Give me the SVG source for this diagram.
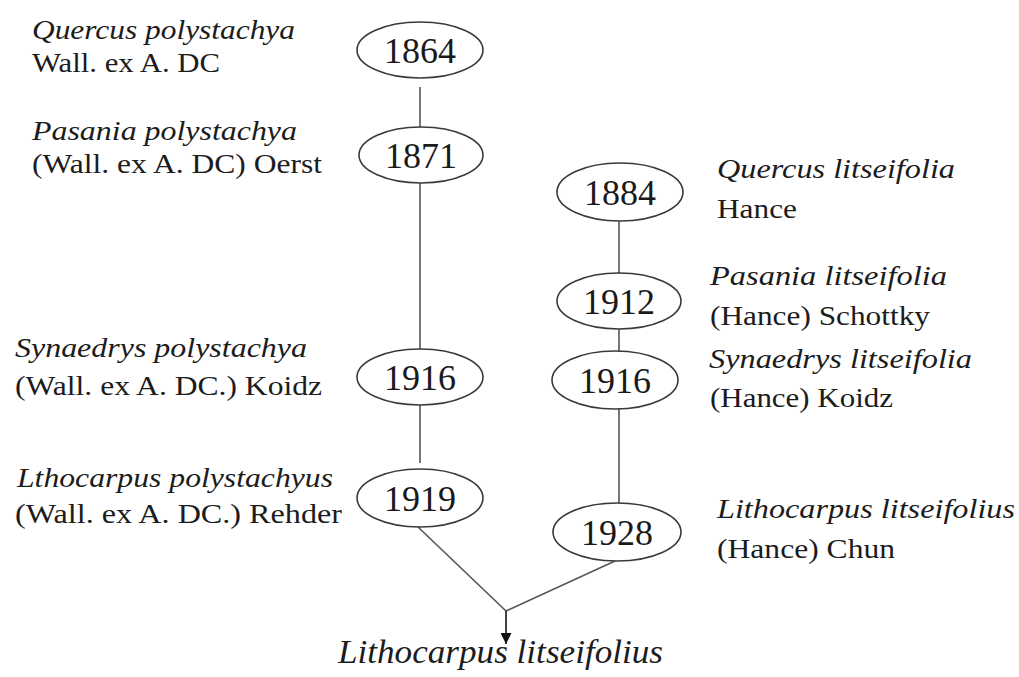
<svg xmlns="http://www.w3.org/2000/svg" width="1019" height="677" viewBox="0 0 1019 677">
<style>
.bg{fill:#ffffff}
.node ellipse{fill:#ffffff;stroke:#3a3a3a;stroke-width:1.6}
.yr{font-family:'Liberation Serif',serif;font-size:36px;fill:#1a1a1a;text-anchor:middle}
.lab{font-family:'Liberation Serif',serif;font-size:28px;fill:#1c1c1c}
.it{font-style:italic}
.big{font-family:'Liberation Serif',serif;font-size:33px;font-style:italic;fill:#1c1c1c}
.conn line{stroke:#555555;stroke-width:1.6;fill:none}
.conn .arr{stroke:#111111}
</style>
<defs>
<marker id="ah" viewBox="0 0 10 10" refX="10" refY="5" markerWidth="11" markerHeight="11" markerUnits="userSpaceOnUse" orient="auto">
<path d="M0,0 L10,5 L0,10 z" fill="#111111"/>
</marker>
</defs>
<rect class="bg" x="0" y="0" width="1019" height="677"/>
<g id="connectors" class="conn">
<line x1="420" y1="87" x2="420" y2="127"/>
<line x1="420" y1="183" x2="420" y2="349"/>
<line x1="420" y1="405" x2="420" y2="463"/>
<line x1="619" y1="221" x2="619" y2="273"/>
<line x1="619" y1="329" x2="619" y2="351"/>
<line x1="619" y1="409" x2="619" y2="503"/>
<line x1="418" y1="527" x2="506" y2="611"/>
<line x1="615" y1="561" x2="506" y2="611"/>
<line class="arr" x1="506" y1="611" x2="506" y2="644" marker-end="url(#ah)"/>
</g>
<g id="n1864" class="node"><ellipse cx="420" cy="50" rx="63" ry="28"/><text class="yr" x="420" y="63">1864</text></g>
<g id="n1871" class="node"><ellipse cx="421" cy="155" rx="62" ry="28"/><text class="yr" x="421" y="168">1871</text></g>
<g id="n1916a" class="node"><ellipse cx="420" cy="377" rx="63" ry="28"/><text class="yr" x="420" y="390">1916</text></g>
<g id="n1919" class="node"><ellipse cx="420" cy="498" rx="63" ry="29"/><text class="yr" x="420" y="511">1919</text></g>
<g id="n1884" class="node"><ellipse cx="620" cy="192" rx="63" ry="29"/><text class="yr" x="620" y="205">1884</text></g>
<g id="n1912" class="node"><ellipse cx="619" cy="301" rx="62" ry="28"/><text class="yr" x="619" y="314">1912</text></g>
<g id="n1916b" class="node"><ellipse cx="615" cy="380" rx="63" ry="29"/><text class="yr" x="615" y="393">1916</text></g>
<g id="n1928" class="node"><ellipse cx="617" cy="532" rx="64" ry="29"/><text class="yr" x="617" y="545">1928</text></g>
<g id="labels-left">
<text class="lab it" x="32" y="39" textLength="263" lengthAdjust="spacingAndGlyphs">Quercus polystachya</text>
<text class="lab" x="32" y="72" textLength="188" lengthAdjust="spacingAndGlyphs">Wall. ex A. DC</text>
<text class="lab it" x="32" y="140" textLength="265" lengthAdjust="spacingAndGlyphs">Pasania polystachya</text>
<text class="lab" x="32" y="173" textLength="290" lengthAdjust="spacingAndGlyphs">(Wall. ex A. DC) Oerst</text>
<text class="lab it" x="15" y="357" textLength="292" lengthAdjust="spacingAndGlyphs">Synaedrys polystachya</text>
<text class="lab" x="15" y="395" textLength="307" lengthAdjust="spacingAndGlyphs">(Wall. ex A. DC.) Koidz</text>
<text class="lab it" x="17" y="487" textLength="316" lengthAdjust="spacingAndGlyphs">Lthocarpus polystachyus</text>
<text class="lab" x="15" y="523" textLength="327" lengthAdjust="spacingAndGlyphs">(Wall. ex A. DC.) Rehder</text>
</g>
<g id="labels-right">
<text class="lab it" x="717" y="178" textLength="238" lengthAdjust="spacingAndGlyphs">Quercus litseifolia</text>
<text class="lab" x="717" y="218" textLength="80" lengthAdjust="spacingAndGlyphs">Hance</text>
<text class="lab it" x="710" y="285" textLength="237" lengthAdjust="spacingAndGlyphs">Pasania litseifolia</text>
<text class="lab" x="710" y="325" textLength="220" lengthAdjust="spacingAndGlyphs">(Hance) Schottky</text>
<text class="lab it" x="709" y="368" textLength="263" lengthAdjust="spacingAndGlyphs">Synaedrys litseifolia</text>
<text class="lab" x="710" y="407" textLength="183" lengthAdjust="spacingAndGlyphs">(Hance) Koidz</text>
<text class="lab it" x="717" y="518" textLength="298" lengthAdjust="spacingAndGlyphs">Lithocarpus litseifolius</text>
<text class="lab" x="717" y="558" textLength="178" lengthAdjust="spacingAndGlyphs">(Hance) Chun</text>
</g>
<g id="result">
<text class="big" x="338" y="663" textLength="325" lengthAdjust="spacingAndGlyphs">Lithocarpus litseifolius</text>
</g>
</svg>
